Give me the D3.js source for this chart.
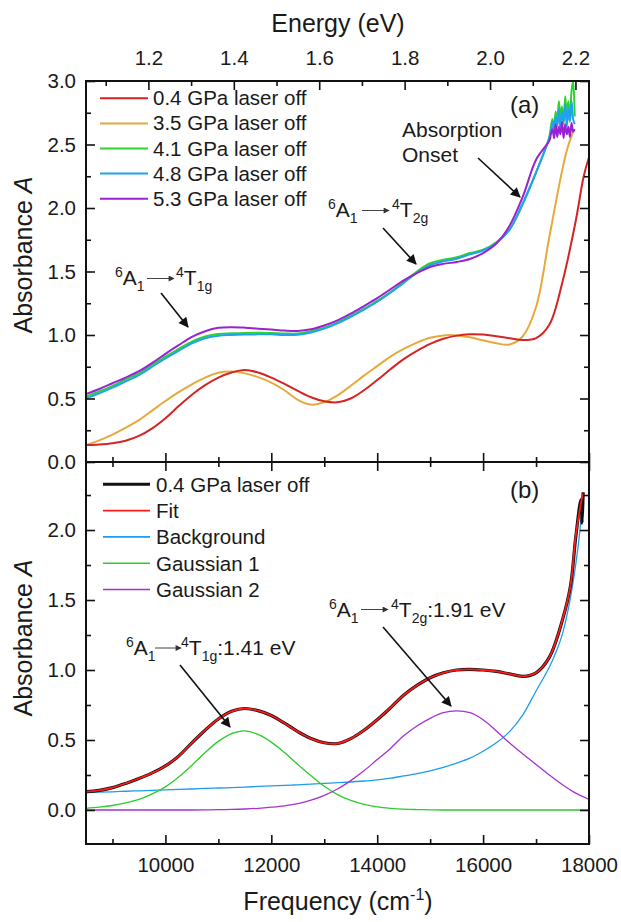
<!DOCTYPE html>
<html>
<head>
<meta charset="utf-8">
<script src="https://cdn.jsdelivr.net/npm/d3@7"></script>
<style>
  body { margin: 0; background: #fff; }
  text { font-family: "Liberation Sans", Arial, sans-serif; fill: #1a1a1a; }
</style>
</head>
<body>
<div id="chart"></div>
<script>
// ---- data (frequency in cm-1, absorbance A) ----
const freqGrid = [8500, 8750, 9000, 9250, 9500, 9750, 10000, 10250, 10500, 10750,
  11000, 11250, 11500, 11750, 12000, 12250, 12500, 12750, 13000, 13250,
  13500, 13750, 14000, 14250, 14500, 14750, 15000, 15250, 15500, 15750,
  16000, 16250, 16500, 16750, 17000];

// panel (a)
const a04 = [0.134, 0.138, 0.148, 0.168, 0.205, 0.265, 0.345, 0.44, 0.53, 0.605,
  0.665, 0.705, 0.725, 0.705, 0.665, 0.615, 0.56, 0.51, 0.478, 0.47,
  0.5, 0.565, 0.645, 0.73, 0.81, 0.875, 0.93, 0.97, 0.995, 1.006,
  1.003, 0.99, 0.975, 0.96, 0.975];
const a04TailF = [17250, 17500, 17750, 17900, 18000];
const a04Tail = [1.08, 1.42, 1.9, 2.25, 2.4];

const a35 = [0.134, 0.17, 0.215, 0.27, 0.33, 0.405, 0.48, 0.55, 0.612, 0.665,
  0.703, 0.712, 0.698, 0.668, 0.625, 0.565, 0.49, 0.452, 0.47, 0.525,
  0.6, 0.68, 0.755, 0.83, 0.89, 0.94, 0.978, 0.997, 0.997, 0.982,
  0.958, 0.935, 0.925, 0.99, 1.22];
const a35TailF = [17250, 17500, 17600, 17700];
const a35Tail = [1.77, 2.31, 2.48, 2.6];

const a41 = [0.515, 0.555, 0.6, 0.65, 0.7, 0.765, 0.83, 0.89, 0.948, 0.988,
  1.008, 1.013, 1.016, 1.017, 1.016, 1.012, 1.012, 1.03, 1.058, 1.1,
  1.15, 1.207, 1.268, 1.338, 1.418, 1.5, 1.565, 1.592, 1.612, 1.645,
  1.672, 1.73, 1.83, 2.03, 2.28];
const a48 = [0.5, 0.54, 0.585, 0.635, 0.685, 0.75, 0.815, 0.875, 0.935, 0.975,
  0.995, 1.0, 1.003, 1.005, 1.005, 1.0, 1.002, 1.02, 1.05, 1.092,
  1.143, 1.2, 1.262, 1.333, 1.41, 1.49, 1.55, 1.58, 1.6, 1.635,
  1.665, 1.725, 1.83, 2.04, 2.28];
const a53 = [0.535, 0.575, 0.62, 0.665, 0.715, 0.78, 0.852, 0.92, 0.985, 1.03,
  1.057, 1.062, 1.058, 1.05, 1.043, 1.035, 1.032, 1.045, 1.075, 1.115,
  1.168, 1.228, 1.29, 1.36, 1.43, 1.487, 1.535, 1.56, 1.575, 1.598,
  1.645, 1.72, 1.86, 2.09, 2.38];

// noisy onset region
const noisyF = [17250, 17280, 17310, 17340, 17370, 17400, 17430, 17460, 17490,
  17520, 17550, 17580, 17610, 17640, 17670, 17700, 17730];
const a41Tail = [2.56, 2.64, 2.7, 2.62, 2.76, 2.68, 2.84, 2.72, 2.8, 2.66, 2.88, 2.74, 2.84, 2.7, 2.92, 3.0, 2.72];
const a48Tail = [2.55, 2.6, 2.68, 2.6, 2.72, 2.64, 2.78, 2.62, 2.76, 2.68, 2.82, 2.64, 2.78, 2.68, 2.84, 2.7, 2.66];
const a53Tail = [2.53, 2.58, 2.62, 2.55, 2.66, 2.56, 2.64, 2.58, 2.68, 2.55, 2.66, 2.58, 2.64, 2.56, 2.67, 2.6, 2.62];

// panel (b)
const measured = [0.131, 0.14, 0.16, 0.19, 0.225, 0.265, 0.315, 0.385, 0.48, 0.57,
  0.65, 0.705, 0.725, 0.71, 0.675, 0.62, 0.56, 0.51, 0.48, 0.475,
  0.51, 0.57, 0.645, 0.73, 0.82, 0.89, 0.945, 0.98, 1.0, 1.005,
  1.0, 0.99, 0.972, 0.955, 0.98];
const measuredTailF = [17250, 17500, 17650, 17750, 17850, 17870, 17890];
const measuredTail = [1.09, 1.36, 1.6, 1.95, 2.22, 2.05, 2.27];
const fit = [0.131, 0.14, 0.16, 0.19, 0.225, 0.265, 0.315, 0.385, 0.48, 0.57,
  0.65, 0.705, 0.725, 0.71, 0.675, 0.62, 0.56, 0.51, 0.48, 0.475,
  0.51, 0.57, 0.645, 0.73, 0.82, 0.89, 0.945, 0.98, 1.0, 1.005,
  1.0, 0.99, 0.972, 0.955, 0.98];
const fitTailF = [17250, 17500, 17650, 17750, 17880];
const fitTail = [1.09, 1.36, 1.6, 1.96, 2.26];
const background = [0.124, 0.127, 0.13, 0.134, 0.137, 0.14, 0.144, 0.147, 0.15, 0.154,
  0.157, 0.16, 0.164, 0.168, 0.172, 0.176, 0.18, 0.185, 0.19, 0.195,
  0.2, 0.207, 0.215, 0.227, 0.243, 0.26, 0.28, 0.305, 0.335, 0.37,
  0.42, 0.48, 0.56, 0.68, 0.85];
const backgroundTailF = [17250, 17400, 17500, 17600, 17700, 17800, 17890];
const backgroundTail = [1.02, 1.15, 1.26, 1.42, 1.63, 1.9, 2.25];
const gauss1 = [0.012, 0.02, 0.032, 0.05, 0.075, 0.115, 0.165, 0.235, 0.32, 0.41,
  0.49, 0.545, 0.565, 0.54, 0.485, 0.41, 0.325, 0.245, 0.17, 0.11,
  0.068, 0.04, 0.022, 0.012, 0.006, 0.003, 0.001, 0, 0, 0,
  0, 0, 0, 0, 0];
const gauss1TailF = [17500, 18000];
const gauss1Tail = [0, 0];
const gauss2 = [0, 0, 0, 0, 0, 0, 0, 0, 0, 0.001,
  0.002, 0.004, 0.007, 0.012, 0.02, 0.03, 0.045, 0.07, 0.105, 0.15,
  0.21, 0.28, 0.36, 0.44, 0.53, 0.6, 0.655, 0.695, 0.708, 0.695,
  0.645, 0.565, 0.478, 0.4, 0.325];
const gauss2TailF = [17250, 17500, 17750, 18000];
const gauss2Tail = [0.25, 0.18, 0.12, 0.076];

const topLabels = ['0.4 GPa laser off', '3.5 GPa laser off', '4.1 GPa laser off', '4.8 GPa laser off', '5.3 GPa laser off'];
const botLabels = ['0.4 GPa laser off', 'Fit', 'Background', 'Gaussian 1', 'Gaussian 2'];

const yTopTicks = [0, 0.5, 1, 1.5, 2, 2.5, 3];
const yBotTicks = [0, 0.5, 1, 1.5, 2];
const freqTicks = [10000, 12000, 14000, 16000, 18000];
const eVTicks = [1.2, 1.4, 1.6, 1.8, 2.0, 2.2];

// ---- layout ----
const W = 621, H = 922;
const L = 86, R = 589, T = 81, MID = 462, B = 844;
const CM_PER_EV = 8065.54;

const svg = d3.select('#chart').append('svg')
  .attr('width', W).attr('height', H);

const x = d3.scaleLinear().domain([8500, 18000]).range([L, R]);
const xE = d3.scaleLinear().domain([8500 / CM_PER_EV, 18000 / CM_PER_EV]).range([L, R]);
const yTop = d3.scaleLinear().domain([0, 3]).range([MID, T]);
const yBot = d3.scaleLinear().domain([-0.243, 2.486]).range([B, MID]);

const zip = (fs, as) => fs.map((f, i) => [f, as[i]]);

const defs = svg.append('defs');
defs.append('clipPath').attr('id', 'clipTop').append('rect')
  .attr('x', L).attr('y', T - 1).attr('width', R - L).attr('height', MID - T + 1);
defs.append('clipPath').attr('id', 'clipBot').append('rect')
  .attr('x', L).attr('y', MID).attr('width', R - L).attr('height', B - MID);

function marker(id, len, wid, color) {
  defs.append('marker').attr('id', id)
    .attr('viewBox', '0 0 10 10').attr('refX', 9).attr('refY', 5)
    .attr('markerWidth', len).attr('markerHeight', wid)
    .attr('markerUnits', 'userSpaceOnUse').attr('orient', 'auto')
    .append('path').attr('d', 'M0,0L10,5L0,10z').attr('fill', color);
}
marker('bigHead', 14, 10, '#111');
marker('smallHead', 9, 6, '#333');

// ---- curves ----
function drawSeries(g, y, pts, color, width) {
  const line = d3.line().x(d => x(d[0])).y(d => y(d[1])).curve(d3.curveCatmullRom.alpha(0.5));
  g.append('path').datum(pts)
    .attr('fill', 'none').attr('stroke', color).attr('stroke-width', width)
    .attr('stroke-linejoin', 'round').attr('d', line);
}

const gTop = svg.append('g').attr('clip-path', 'url(#clipTop)');
const topColors = ['#d42424', '#e8a83a', '#2fd12f', '#1fa3f0', '#9b22d2'];
drawSeries(gTop, yTop, zip(freqGrid, a35).concat(zip(a35TailF, a35Tail)), topColors[1], 2);
drawSeries(gTop, yTop, zip(freqGrid, a04).concat(zip(a04TailF, a04Tail)), topColors[0], 2);
drawSeries(gTop, yTop, zip(freqGrid, a41).concat(zip(noisyF, a41Tail)), topColors[2], 2);
drawSeries(gTop, yTop, zip(freqGrid, a48).concat(zip(noisyF, a48Tail)), topColors[3], 2);
drawSeries(gTop, yTop, zip(freqGrid, a53).concat(zip(noisyF, a53Tail)), topColors[4], 2);

const gBot = svg.append('g').attr('clip-path', 'url(#clipBot)');
const botColors = ['#111111', '#ff1a1a', '#1e9cf0', '#2ccc2c', '#a532d2'];
const botWidths = [3.2, 1.8, 1.3, 1.3, 1.3];
drawSeries(gBot, yBot, zip(freqGrid, background).concat(zip(backgroundTailF, backgroundTail)), botColors[2], botWidths[2]);
drawSeries(gBot, yBot, zip(freqGrid, gauss1).concat(zip(gauss1TailF, gauss1Tail)), botColors[3], botWidths[3]);
drawSeries(gBot, yBot, zip(freqGrid, gauss2).concat(zip(gauss2TailF, gauss2Tail)), botColors[4], botWidths[4]);
drawSeries(gBot, yBot, zip(freqGrid, measured).concat(zip(measuredTailF, measuredTail)), botColors[0], botWidths[0]);
drawSeries(gBot, yBot, zip(freqGrid, fit).concat(zip(fitTailF, fitTail)), botColors[1], botWidths[1]);

// ---- axes ----
const tickFont = g => g.style('font-size', '20.5px').style('font-family', '"Liberation Sans", Arial, sans-serif');
const clean = g => { g.select('.domain').remove(); g.selectAll('line').attr('stroke', '#111').attr('stroke-width', 1.6); };
const minors = (lo, hi, step, skip) => d3.range(lo, hi + 1e-9, step).filter(v => !skip.some(s => Math.abs(s - v) < 1e-6));

function addAxis(axis, tx, ty) {
  return svg.append('g').attr('transform', `translate(${tx},${ty})`).call(axis).call(clean).call(tickFont);
}

// panel (a) left / right
addAxis(d3.axisLeft(yTop).tickValues(yTopTicks).tickFormat(d3.format('.1f')).tickSize(-9).tickPadding(10), L, 0);
addAxis(d3.axisLeft(yTop).tickValues(minors(0.25, 2.75, 0.5, [])).tickFormat('').tickSize(-5), L, 0);
addAxis(d3.axisRight(yTop).tickValues(yTopTicks).tickFormat('').tickSize(-9), R, 0);
addAxis(d3.axisRight(yTop).tickValues(minors(0.25, 2.75, 0.5, [])).tickFormat('').tickSize(-5), R, 0);
// panel (a) top energy axis
addAxis(d3.axisTop(xE).tickValues(eVTicks).tickFormat(d3.format('.1f')).tickSize(-9).tickPadding(16), 0, T);
addAxis(d3.axisTop(xE).tickValues(minors(1.1, 2.2, 0.1, eVTicks)).tickFormat('').tickSize(-5), 0, T);
// shared middle edge
addAxis(d3.axisBottom(x).tickValues(freqTicks).tickFormat('').tickSize(-9), 0, MID);
addAxis(d3.axisBottom(x).tickValues(minors(9000, 17000, 2000, [])).tickFormat('').tickSize(-5), 0, MID);
addAxis(d3.axisTop(x).tickValues(freqTicks).tickFormat('').tickSize(-9), 0, MID);
addAxis(d3.axisTop(x).tickValues(minors(9000, 17000, 2000, [])).tickFormat('').tickSize(-5), 0, MID);
// panel (b)
addAxis(d3.axisLeft(yBot).tickValues(yBotTicks).tickFormat(d3.format('.1f')).tickSize(-9).tickPadding(10), L, 0);
addAxis(d3.axisLeft(yBot).tickValues(minors(0.25, 2.25, 0.5, [])).tickFormat('').tickSize(-5), L, 0);
addAxis(d3.axisRight(yBot).tickValues(yBotTicks).tickFormat('').tickSize(-9), R, 0);
addAxis(d3.axisRight(yBot).tickValues(minors(0.25, 2.25, 0.5, [])).tickFormat('').tickSize(-5), R, 0);
addAxis(d3.axisBottom(x).tickValues(freqTicks).tickFormat(d3.format('d')).tickSize(-9).tickPadding(13), 0, B);
addAxis(d3.axisBottom(x).tickValues(minors(9000, 17000, 2000, [])).tickFormat('').tickSize(-5), 0, B);

// frames
[[T, MID], [MID, B]].forEach(([y0, y1]) => {
  svg.append('rect').attr('x', L).attr('y', y0).attr('width', R - L).attr('height', y1 - y0)
    .attr('fill', 'none').attr('stroke', '#111').attr('stroke-width', 2);
});

// ---- titles ----
svg.append('text').attr('x', 338).attr('y', 32).attr('text-anchor', 'middle')
  .style('font-size', '25px').text('Energy (eV)');
const fq = svg.append('text').attr('x', 338).attr('y', 910).attr('text-anchor', 'middle').style('font-size', '25px');
fq.append('tspan').text('Frequency (cm');
fq.append('tspan').attr('dy', -10).style('font-size', '16px').text('-1');
fq.append('tspan').attr('dy', 10).text(')');

[255, 638].forEach(cy => {
  const t = svg.append('text').attr('transform', `translate(32,${cy}) rotate(-90)`)
    .attr('text-anchor', 'middle').style('font-size', '25px');
  t.append('tspan').text('Absorbance ');
  t.append('tspan').style('font-style', 'italic').text('A');
});

svg.append('text').attr('x', 510).attr('y', 113).style('font-size', '24px').text('(a)');
svg.append('text').attr('x', 510).attr('y', 498).style('font-size', '24px').text('(b)');

// ---- legends ----
topLabels.forEach((lab, i) => {
  const cy = 98.3 + i * 25.1;
  svg.append('line').attr('x1', 100).attr('x2', 148).attr('y1', cy).attr('y2', cy)
    .attr('stroke', topColors[i]).attr('stroke-width', 2);
  svg.append('text').attr('x', 153).attr('y', cy + 7).style('font-size', '20.5px').text(lab);
});
botLabels.forEach((lab, i) => {
  const cy = 484.3 + i * 26.3;
  svg.append('line').attr('x1', 103).attr('x2', 150).attr('y1', cy).attr('y2', cy)
    .attr('stroke', botColors[i]).attr('stroke-width', i === 0 ? 3 : 1.6);
  svg.append('text').attr('x', 156).attr('y', cy + 7.5).style('font-size', '20.5px').text(lab);
});

// ---- annotations ----
function chem(x0, y0, parts) {
  const t = svg.append('text').attr('x', x0).attr('y', y0).style('font-size', '21px');
  let cur = 0;
  parts.forEach(([s, k]) => {
    const off = k === 'sup' ? -8 : k === 'sub' ? 6 : 0;
    const ts = t.append('tspan').attr('dy', off - cur).text(s);
    if (k) ts.style('font-size', '14px');
    cur = off;
  });
}
function arrow(x1, y1, x2, y2, big) {
  svg.append('line').attr('x1', x1).attr('y1', y1).attr('x2', x2).attr('y2', y2)
    .attr('stroke', big ? '#111' : '#444').attr('stroke-width', big ? 1.6 : 1)
    .attr('marker-end', big ? 'url(#bigHead)' : 'url(#smallHead)');
}

// 6A1 -> 4T1g (a)
chem(115, 285, [['6', 'sup'], ['A', null], ['1', 'sub']]);
arrow(147, 278.5, 174, 278.5, false);
chem(176, 285, [['4', 'sup'], ['T', null], ['1g', 'sub']]);
arrow(161, 293, 188, 327, true);

// 6A1 -> 4T2g (a)
chem(328, 217, [['6', 'sup'], ['A', null], ['1', 'sub']]);
arrow(362, 210.5, 389, 210.5, false);
chem(392, 217, [['4', 'sup'], ['T', null], ['2g', 'sub']]);
arrow(383, 228, 416, 264, true);

// absorption onset
svg.append('text').attr('x', 402).attr('y', 137).style('font-size', '21px').text('Absorption');
svg.append('text').attr('x', 402).attr('y', 162).style('font-size', '21px').text('Onset');
arrow(478, 158, 520, 197, true);

// (b) labels
chem(126, 655, [['6', 'sup'], ['A', null], ['1', 'sub']]);
arrow(155, 648, 181, 648, false);
chem(181, 655, [['4', 'sup'], ['T', null], ['1g', 'sub'], [':1.41 eV', null]]);
arrow(180, 665, 230, 727, true);

chem(329, 617, [['6', 'sup'], ['A', null], ['1', 'sub']]);
arrow(361, 609.5, 388, 609.5, false);
chem(391, 617, [['4', 'sup'], ['T', null], ['2g', 'sub'], [':1.91 eV', null]]);
arrow(383, 627, 451, 706, true);
</script>
</body>
</html>
